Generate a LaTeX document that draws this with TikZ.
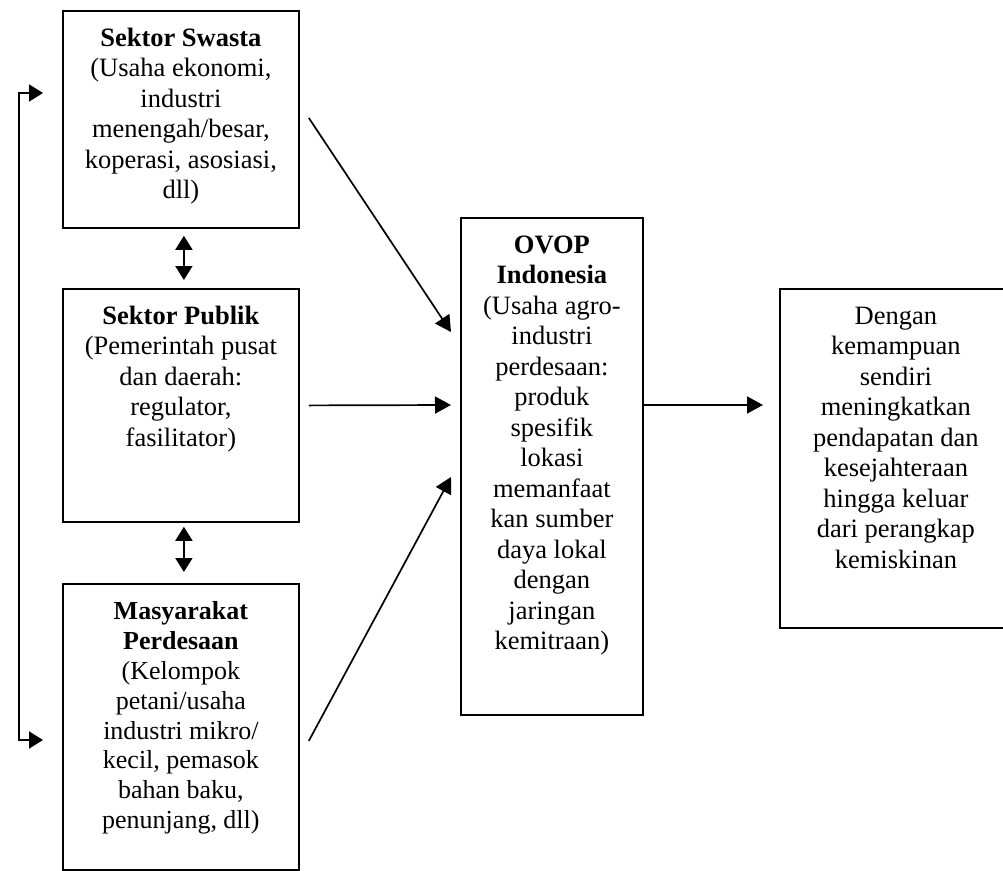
\documentclass[tikz,border=0pt]{standalone}
\usepackage{fontspec}
\setmainfont{Liberation Serif}
\usetikzlibrary{arrows.meta,calc}
\newcommand\myboxtext[3]{\parbox[t][#2][t]{#1}{\centering\rule{0pt}{35.5pt}#3}}
\begin{document}
\begin{tikzpicture}[x=1pt,y=-1pt,
  box/.style={draw, line width=1.8pt, inner sep=0pt, anchor=north west,
    font=\fontsize{26.5}{30.5}\selectfont},
  arr/.style={line width=1.7pt, -{Triangle[length=16pt,width=17pt]}},
  dbl/.style={line width=1.8pt, {Triangle[length=14pt,width=17pt]}-{Triangle[length=14pt,width=17pt]}}]
\useasboundingbox (0,0) rectangle (1003,870);
\clip (0,0) rectangle (1003,870);

\node[box] (sw) at (62,10) {\myboxtext{236pt}{217pt}{\textbf{Sektor Swasta}\\(Usaha ekonomi,\\industri\\menengah/besar,\\koperasi, asosiasi,\\dll)}};
\node[box] (pub) at (62,288) {\myboxtext{236pt}{233pt}{\textbf{Sektor Publik}\\(Pemerintah pusat\\dan daerah:\\regulator,\\fasilitator)}};
\node[box, font=\fontsize{26}{29.9}\selectfont] (mas) at (62,583) {\myboxtext{236pt}{286pt}{\textbf{Masyarakat}\\\textbf{Perdesaan}\\(Kelompok\\petani/usaha\\industri mikro/\\kecil, pemasok\\bahan baku,\\penunjang, dll)}};
\node[box] (ovop) at (460,217) {\myboxtext{182pt}{497pt}{\textbf{OVOP}\\\textbf{Indonesia}\\(Usaha agro-\\industri\\perdesaan:\\produk\\spesifik\\lokasi\\memanfaat\\kan sumber\\daya lokal\\dengan\\jaringan\\kemitraan)}};
\node[box] (res) at (779,288) {\myboxtext{232pt}{339pt}{Dengan\\kemampuan\\sendiri\\meningkatkan\\pendapatan dan\\kesejahteraan\\hingga keluar\\dari perangkap\\kemiskinan}};

% double arrows between sectors
\draw[dbl] ([xshift=3pt,yshift=-7pt]sw.south) -- ([xshift=3pt,yshift=8pt]pub.north);
\draw[dbl] ([xshift=3pt,yshift=-4pt]pub.south) -- ([xshift=3pt,yshift=11pt]mas.north);

% feedback loop on the left
\coordinate (la) at (43,93);
\coordinate (lb) at (43,740);
\draw[dbl] (la) -- (19,93) -- (19,740) -- (lb);

% arrows into OVOP
\draw[arr] ($(sw.east)+(9,-1.5)$) -- ($(ovop.west |- 0,332)+(-9,0)$);
\draw[arr] ([xshift=9pt]pub.east) -- ($(ovop.west |- 0,405)+(-9,0)$);
\draw[arr] ($(mas.east)+(9,14)$) -- ($(ovop.west |- 0,477)+(-9,0)$);

% arrow to result
\draw[arr] (ovop.east |- 0,405) -- ($(res.west |- 0,405)+(-16,0)$);
\end{tikzpicture}
\end{document}
